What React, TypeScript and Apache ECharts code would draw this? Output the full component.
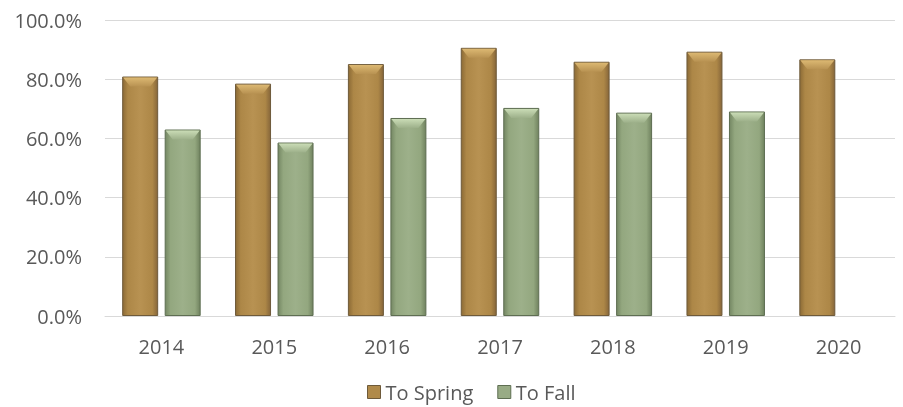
import React, { useEffect, useRef } from "react";
import * as echarts from "echarts";

const categories = ["2014", "2015", "2016", "2017", "2018", "2019", "2020"];
const toSpring = [80.9, 78.5, 85.1, 90.6, 85.9, 89.3, 86.7];
const toFall: (number | null)[] = [63.0, 58.6, 66.9, 70.3, 68.7, 69.1, null];
const yTicks = [0, 20, 40, 60, 80, 100];

const BAR_W = 36;
const BAR_GAP = 6.5;

const springFill = new echarts.graphic.LinearGradient(0, 0, 1, 0, [
  { offset: 0, color: "#8c6b36" },
  { offset: 0.15, color: "#ad8747" },
  { offset: 0.5, color: "#b89252" },
  { offset: 0.85, color: "#ad8747" },
  { offset: 1, color: "#86663a" },
]);
const fallFill = new echarts.graphic.LinearGradient(0, 0, 1, 0, [
  { offset: 0, color: "#748763" },
  { offset: 0.15, color: "#93a77f" },
  { offset: 0.5, color: "#9db08a" },
  { offset: 0.85, color: "#93a77f" },
  { offset: 1, color: "#70825f" },
]);

function bevel(seriesIdx: number, top: string, base: string) {
  return (params: any, api: any) => {
    const v = api.value(1);
    if (v == null || isNaN(v)) return null;
    const c = api.coord([api.value(0), v]);
    const half = (BAR_W * 2 + BAR_GAP) / 2;
    const x0 = c[0] - half + seriesIdx * (BAR_W + BAR_GAP) + 1;
    const x1 = x0 + BAR_W - 2;
    const y = c[1] + 1;
    const h = 9;
    const ins = 7;
    return {
      type: "polygon",
      shape: {
        points: [
          [x0, y],
          [x1, y],
          [x1 - ins, y + h],
          [x0 + ins, y + h],
        ],
      },
      style: {
        fill: new echarts.graphic.LinearGradient(0, 0, 0, 1, [
          { offset: 0, color: top },
          { offset: 1, color: base },
        ]),
      },
      silent: true,
    };
  };
}

export default function App() {
  const ref = useRef<HTMLDivElement>(null);
  useEffect(() => {
    if (!ref.current) return;
    const chart = echarts.init(ref.current, undefined, { renderer: "svg" });
    const font = "'Open Sans', 'Noto Sans', sans-serif";
    chart.setOption({
      animation: false,
      textStyle: { fontFamily: font },
      grid: { left: 105, right: 8, top: 20, bottom: 91, containLabel: false },
      legend: {
        top: 377,
        left: 362,
        itemWidth: 13,
        itemHeight: 13,
        itemGap: 24,
        textStyle: { fontSize: 20, color: "#595959", fontFamily: font },
        data: [
          { name: "To Spring", icon: "rect", itemStyle: { color: "#b08a4a", borderColor: "#6e5a3a", borderWidth: 1 } },
          { name: "To Fall", icon: "rect", itemStyle: { color: "#98ab85", borderColor: "#5e6e52", borderWidth: 1 } },
        ],
      },
      xAxis: {
        type: "category",
        data: categories,
        axisLine: { lineStyle: { color: "#d9d9d9", width: 1 } },
        axisTick: { show: false },
        axisLabel: { fontSize: 20, color: "#595959", margin: 20, fontFamily: font },
      },
      yAxis: {
        type: "value",
        min: yTicks[0],
        max: yTicks[yTicks.length - 1],
        interval: 20,
        axisLine: { show: false },
        axisTick: { show: false },
        splitLine: { lineStyle: { color: "#d9d9d9", width: 1 } },
        axisLabel: {
          fontSize: 20,
          color: "#595959",
          margin: 23,
          fontFamily: font,
          formatter: (v: number) => v.toFixed(1) + "%",
        },
      },
      series: [
        {
          name: "To Spring",
          type: "bar",
          data: toSpring,
          barWidth: BAR_W,
          barGap: (BAR_GAP / BAR_W) * 100 + "%",
          itemStyle: { color: springFill, borderColor: "#6e5a3a", borderWidth: 1 },
        },
        {
          name: "To Fall",
          type: "bar",
          data: toFall,
          barWidth: BAR_W,
          barGap: (BAR_GAP / BAR_W) * 100 + "%",
          itemStyle: { color: fallFill, borderColor: "#5e6e52", borderWidth: 1 },
        },
        {
          name: "springBevel",
          type: "custom",
          renderItem: bevel(0, "#dcb872", "#b89252"),
          data: toSpring.map((v, i) => [i, v]),
          z: 5,
          silent: true,
        },
        {
          name: "fallBevel",
          type: "custom",
          renderItem: bevel(1, "#cadcb6", "#9db08a"),
          data: toFall.map((v, i) => [i, v]),
          z: 5,
          silent: true,
        },
      ],
    });
    return () => chart.dispose();
  }, []);
  return (
    <div
      ref={ref}
      style={{ position: "fixed", left: 0, top: 0, width: 903, height: 407, overflow: "hidden" }}
    />
  );
}
